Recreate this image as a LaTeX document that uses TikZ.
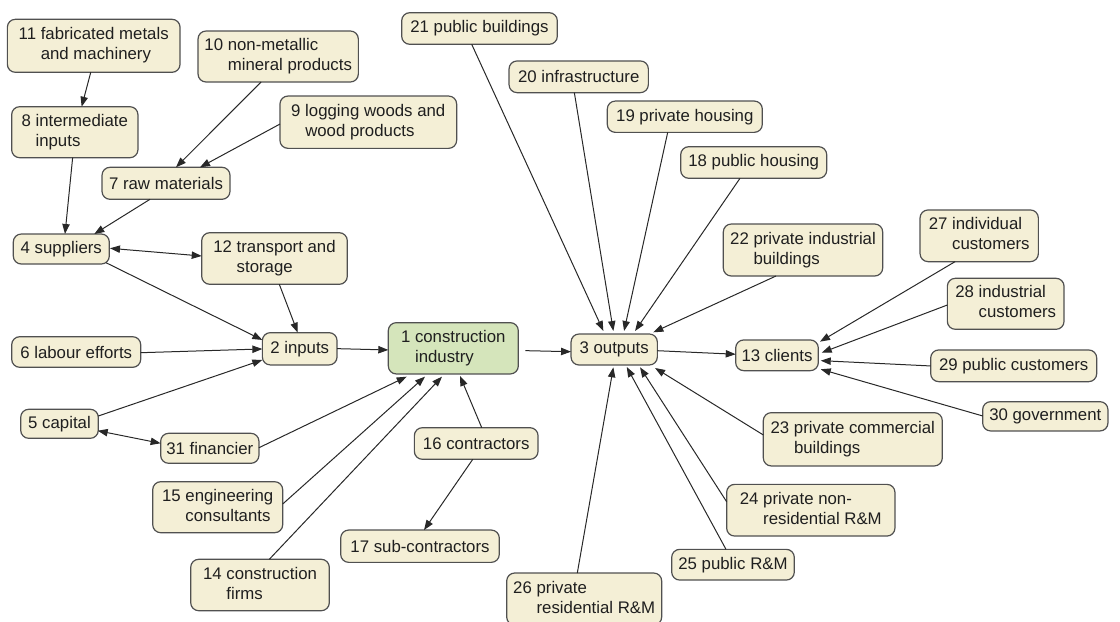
\documentclass[tikz,border=0pt]{standalone}
\usepackage{fontspec}
\setmainfont{Liberation Sans}
\usetikzlibrary{calc,arrows.meta}
\definecolor{cream}{RGB}{244,239,214}
\definecolor{leaf}{RGB}{213,229,187}
\definecolor{edgegray}{RGB}{40,40,40}
\definecolor{boxline}{RGB}{80,80,80}
\newcommand\twol[3]{\begin{tabular}{@{}l@{\ }l@{}}#1&#2\\&#3\end{tabular}}
\begin{document}
\begin{tikzpicture}[x=0.75pt,y=-0.75pt,
  box/.style={draw=boxline,line width=0.9pt,fill=cream,rounded corners=6pt,
    inner xsep=3pt,inner ysep=0pt,outer sep=0pt,text=black!88,
    font=\fontsize{12.6}{15}\selectfont},
  bx/.style 2 args={minimum width=#1*0.75pt,minimum height=#2*0.75pt},
  arr/.style={draw=edgegray,line width=0.75pt,-{Triangle[length=7.5pt,width=5.5pt]}},
  arrb/.style={draw=edgegray,line width=0.75pt,{Triangle[length=7.5pt,width=5.5pt]}-{Triangle[length=7.5pt,width=5.5pt]}}]
\useasboundingbox (0,0) rectangle (1120,621);

% nodes
\node[box,bx={172.7}{53}] (n11) at (93.7,45.8) {\twol{11}{fabricated metals}{and machinery}};
\node[box,bx={160.3}{51}] (n10) at (278.2,56.5) {\twol{10}{non-metallic}{mineral products}};
\node[box,bx={176.7}{52.3}] (n9) at (368.3,122.2) {\twol{9}{logging woods and}{wood products}};
\node[box,bx={126.3}{51}] (n8) at (74.8,132.2) {\twol{8}{intermediate}{inputs}};
\node[box,bx={128}{32}] (n7) at (166,183.3) {7 raw materials};
\node[box,bx={96}{30}] (n4) at (61.3,249) {4 suppliers};
\node[box,bx={145.6}{51.6}] (n12) at (274.5,258.5) {\twol{12}{transport and}{storage}};
\node[box,bx={129}{30.6}] (n6) at (76.2,352) {6 labour efforts};
\node[box,bx={74.7}{32.3}] (n2) at (299.7,348.8) {2 inputs};
\node[box,bx={130}{51.3},fill=leaf] (n1) at (453.3,348.3) {\twol{1}{construction}{industry}};
\node[box,bx={86.3}{31}] (n3) at (614.2,349.5) {3 outputs};
\node[box,bx={82.6}{30.7}] (n13) at (777,355.3) {13 clients};
\node[box,bx={77.6}{29}] (n5) at (59.5,423.8) {5 capital};
\node[box,bx={98.3}{30}] (n31) at (209.8,448.3) {31 financier};
\node[box,bx={123.7}{31.6}] (n16) at (476.2,443.5) {16 contractors};
\node[box,bx={130}{51}] (n15) at (217.7,507.2) {\twol{15}{engineering}{consultants}};
\node[box,bx={158.6}{32.3}] (n17) at (420,546.2) {17 sub-contractors};
\node[box,bx={138.6}{51.4}] (n14) at (260,585) {\twol{14}{construction}{firms}};
\node[box,bx={155.6}{31.6}] (n21) at (479.5,28.5) {21 public buildings};
\node[box,bx={139.3}{31.7}] (n20) at (578.7,76.8) {20 infrastructure};
\node[box,bx={155}{31.3}] (n19) at (684.8,116.7) {19 private housing};
\node[box,bx={146}{31.6}] (n18) at (753.7,162.5) {18 public housing};
\node[box,bx={159.4}{52}] (n22) at (803,250) {\twol{22}{private industrial}{buildings}};
\node[box,bx={118.3}{51.7}] (n27) at (979.2,235.8) {\twol{27}{individual}{customers}};
\node[box,bx={116.7}{51}] (n28) at (1005.7,303.8) {\twol{28}{industrial}{customers}};
\node[box,bx={166}{31.7}] (n29) at (1013.7,365.8) {29 public customers};
\node[box,bx={125.3}{29.3}] (n30) at (1045.3,416.3) {30 government};
\node[box,bx={179}{53.3}] (n23) at (852.8,439.3) {\twol{23}{private commercial}{buildings}};
\node[box,bx={168.3}{51.7}] (n24) at (810.8,510.2) {\twol{24}{private non-}{residential R\&M}};
\node[box,bx={122.6}{30.7}] (n25) at (733,564.7) {25 public R\&M};
\node[box,bx={155}{52}] (n26) at (584.2,599) {\twol{26}{private}{residential R\&M}};

% connectors
\draw[arr] ($(n11.north west)+(83.4,53)$) -- ($(n8.north west)+(70,0)$);
\draw[arr] ($(n10.north west)+(63,51)$) -- ($(n7.north west)+(74,0)$);
\draw[arr] ($(n9.north west)+(0,28)$) -- ($(n7.north west)+(98,0)$);
\draw[arr] ($(n8.north west)+(61,51)$) -- ($(n4.north west)+(51.7,0)$);
\draw[arr] ($(n7.north west)+(48,32)$) -- ($(n4.north west)+(81,0)$);
\draw[arrb] ($(n4.north west)+(96.7,14.3)$) -- ($(n12.north west)+(0,23.3)$);
\draw[arr] ($(n4.north west)+(92.7,28.7)$) -- ($(n2.north west)+(0,7.3)$);
\draw[arr] ($(n12.north west)+(77.6,51.6)$) -- ($(n2.north west)+(35.4,0)$);
\draw[arr] ($(n6.north west)+(129,16)$) -- ($(n2.north west)+(0,16.3)$);
\draw[arr] ($(n5.north west)+(77.6,6.7)$) -- ($(n2.north west)+(0,27.3)$);
\draw[arrb] ($(n5.north west)+(77,21.4)$) -- ($(n31.north west)+(0,10)$);
\draw[arr] ($(n31.north west)+(98.3,14.4)$) -- ($(n1.north west)+(18.4,54)$);
\draw[arr] ($(n15.north west)+(130,22.3)$) -- ($(n1.north west)+(36.7,54)$);
\draw[arr] ($(n14.north west)+(78.6,0)$) -- ($(n1.north west)+(53.7,54)$);
\draw[arr] ($(n16.north west)+(67.4,0)$) -- ($(n1.north west)+(71.7,53.3)$);
\draw[arr] ($(n16.north west)+(58.4,31.6)$) -- ($(n17.north west)+(83.3,0)$);
\draw[arr] ($(n2.north west)+(74.7,16)$) -- ($(n1.north west)+(0,27.3)$);
\draw[arr] ($(n1.north west)+(137,28)$) -- ($(n3.north west)+(0,17.7)$);
\draw[arr] ($(n3.north west)+(86.3,16.7)$) -- ($(n13.north west)+(0,14.3)$);
\draw[arr] ($(n21.north west)+(70,31.6)$) -- ($(n3.north west)+(32.3,-3)$);
\draw[arr] ($(n20.north west)+(65.3,31.7)$) -- ($(n3.north west)+(42.3,-3)$);
\draw[arr] ($(n19.north west)+(60.4,31.3)$) -- ($(n3.north west)+(53,-3)$);
\draw[arr] ($(n18.north west)+(59.3,31.6)$) -- ($(n3.north west)+(64,-3)$);
\draw[arr] ($(n22.north west)+(52.7,52)$) -- ($(n3.north west)+(82.3,-1.7)$);
\draw[arr] ($(n23.north west)+(0,22.3)$) -- ($(n3.north west)+(84,34)$);
\draw[arr] ($(n24.north west)+(0,17.4)$) -- ($(n3.north west)+(69,33.3)$);
\draw[arr] ($(n25.north west)+(54.3,0)$) -- ($(n3.north west)+(55.7,33)$);
\draw[arr] ($(n26.north west)+(70.6,0)$) -- ($(n3.north west)+(42.3,33.3)$);
\draw[arr] ($(n27.north west)+(35,51.7)$) -- ($(n13.north west)+(84.3,1.7)$);
\draw[arr] ($(n28.north west)+(0,26.7)$) -- ($(n13.north west)+(86,12.7)$);
\draw[arr] ($(n29.north west)+(0,16)$) -- ($(n13.north west)+(85,20.7)$);
\draw[arr] ($(n30.north west)+(0,14.3)$) -- ($(n13.north west)+(85,29.3)$);
\end{tikzpicture}
\end{document}
